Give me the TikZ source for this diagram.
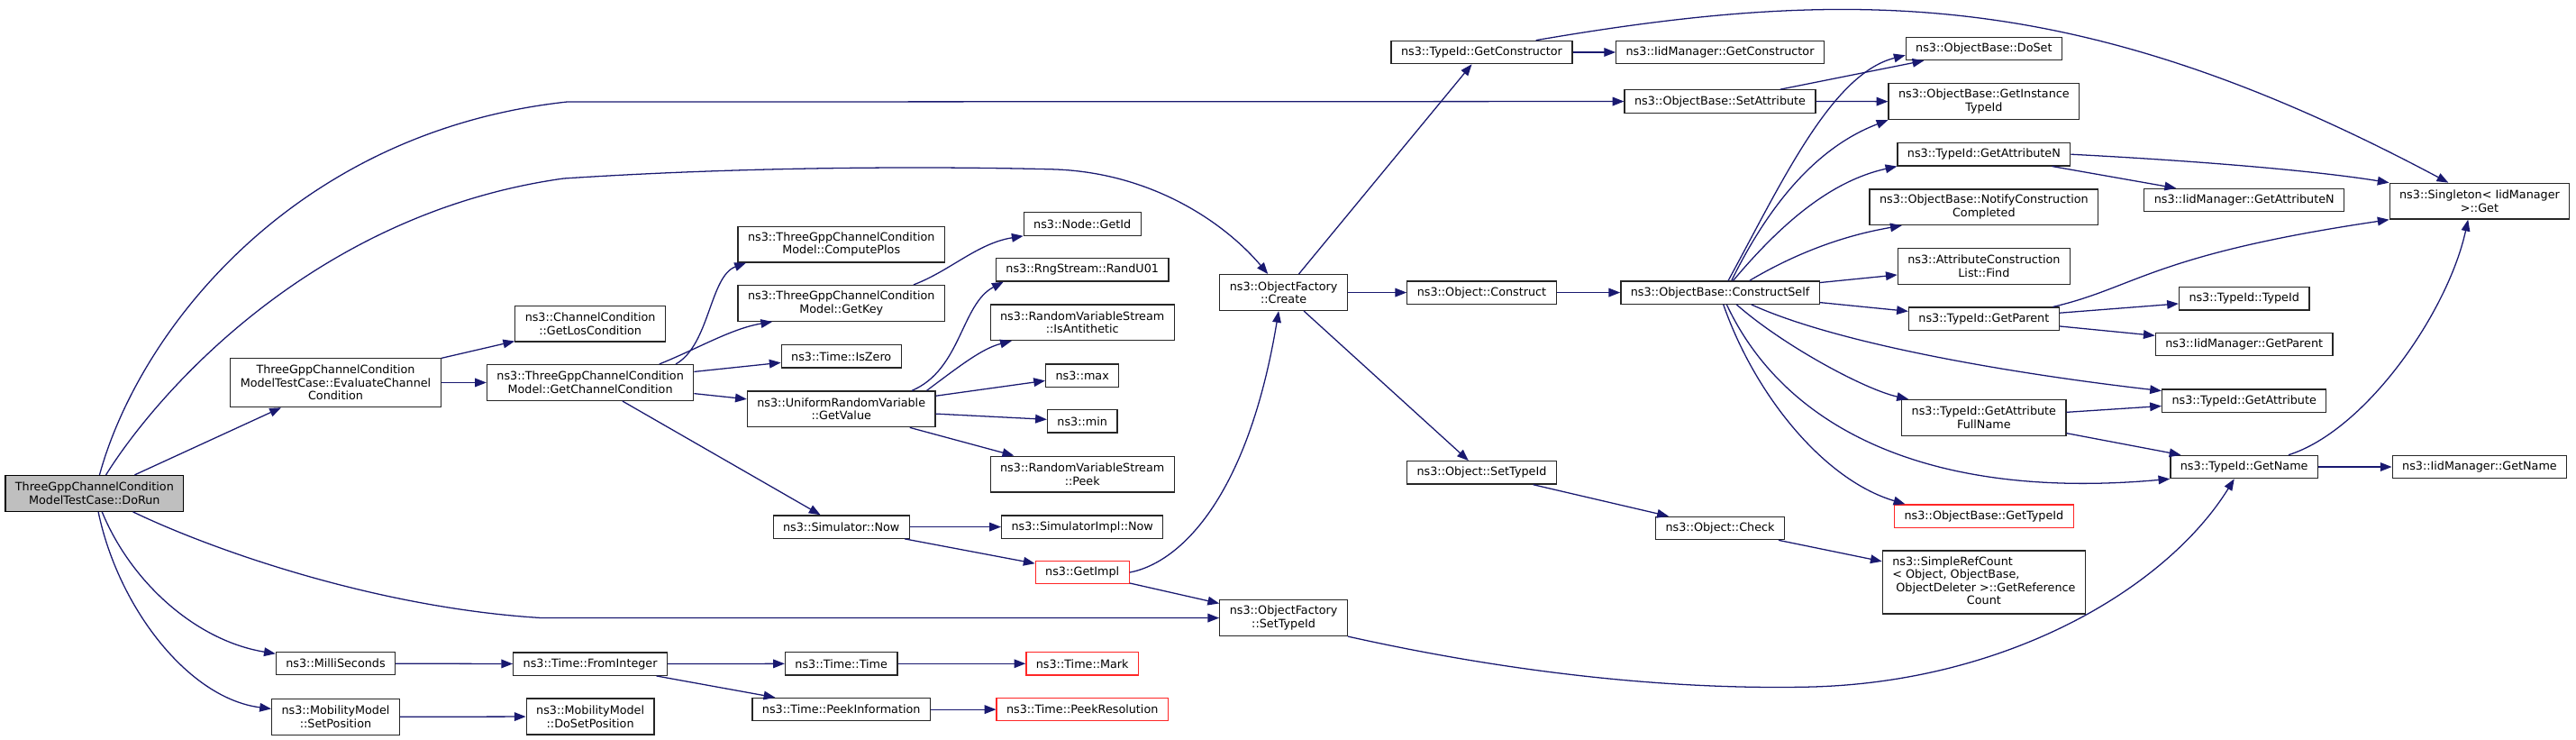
\documentclass[tikz,border=0pt]{standalone}
\usepackage{fontspec}
\setmainfont{DejaVu Sans}
\usetikzlibrary{arrows.meta}
\definecolor{callblue}{RGB}{25,25,112}
\definecolor{rootgray}{RGB}{191,191,191}
\definecolor{truncred}{RGB}{255,38,38}
\begin{document}
\begin{tikzpicture}[x=1pt, y=-1pt,
    fn/.style={draw=black!85, fill=white, line width=0.7pt, font=\fontsize{7}{8}\selectfont,
      align=center, inner xsep=6pt, inner ysep=0pt, minimum height=13.9pt},
    two/.style={minimum height=21.8pt},
    three/.style={minimum height=29.8pt},
    four/.style={minimum height=38.4pt},
    root/.style={draw=black, fill=rootgray},
    trunc/.style={draw=truncred},
    call/.style={draw=callblue, line width=0.7pt, -{Triangle[length=7pt, width=5.3pt]}}]
    \useasboundingbox (0,0) rectangle (1568,450);
    \node[fn, root, two] (dorun) at (57.5,300.2) {ThreeGppChannelCondition\\ModelTestCase::DoRun};
    \node[fn, three] (evalcc) at (204.3,232.8) {ThreeGppChannelCondition\\ModelTestCase::EvaluateChannel\\Condition};
    \node[fn] (milli) at (204.3,403.7) {ns3::MilliSeconds};
    \node[fn, two] (setpos) at (204.3,436.2) {ns3::MobilityModel\\::SetPosition};
    \node[fn, two] (getlos) at (359.3,197) {ns3::ChannelCondition\\::GetLosCondition};
    \node[fn, two] (getcc) at (359.3,232.8) {ns3::ThreeGppChannelCondition\\Model::GetChannelCondition};
    \node[fn] (fromint) at (359.3,404) {ns3::Time::FromInteger};
    \node[fn, two] (dosetpos) at (359.3,436) {ns3::MobilityModel\\::DoSetPosition};
    \node[fn, two] (plos) at (512.1,148.7) {ns3::ThreeGppChannelCondition\\Model::ComputePlos};
    \node[fn, two] (getkey) at (512.1,184.5) {ns3::ThreeGppChannelCondition\\Model::GetKey};
    \node[fn] (iszero) at (512.1,216.8) {ns3::Time::IsZero};
    \node[fn, two] (getval) at (512.1,248.9) {ns3::UniformRandomVariable\\::GetValue};
    \node[fn] (simnow) at (512.1,320.6) {ns3::Simulator::Now};
    \node[fn] (ttime) at (512.1,403.8) {ns3::Time::Time};
    \node[fn] (peekinfo) at (512.1,431.7) {ns3::Time::PeekInformation};
    \node[fn] (nodeid) at (658.8,136.3) {ns3::Node::GetId};
    \node[fn] (randu) at (658.8,164.2) {ns3::RngStream::RandU01};
    \node[fn, two] (anti) at (658.8,196.2) {ns3::RandomVariableStream\\::IsAntithetic};
    \node[fn] (nmax) at (658.8,228.5) {ns3::max};
    \node[fn] (nmin) at (658.8,256.3) {ns3::min};
    \node[fn, two] (peek) at (658.8,288.5) {ns3::RandomVariableStream\\::Peek};
    \node[fn] (implnow) at (658.8,320.6) {ns3::SimulatorImpl::Now};
    \node[fn, trunc] (getimpl) at (658.8,348.3) {ns3::GetImpl};
    \node[fn, trunc] (tmark) at (658.8,403.8) {ns3::Time::Mark};
    \node[fn, trunc] (peekres) at (658.8,431.7) {ns3::Time::PeekResolution};
    \node[fn, two] (create) at (781.3,178) {ns3::ObjectFactory\\::Create};
    \node[fn, two] (ofsettid) at (781.3,376) {ns3::ObjectFactory\\::SetTypeId};
    \node[fn] (getctor) at (901.9,31.8) {ns3::TypeId::GetConstructor};
    \node[fn] (construct) at (901.9,178) {ns3::Object::Construct};
    \node[fn] (osettid) at (901.9,287.6) {ns3::Object::SetTypeId};
    \node[fn] (iidctor) at (1047,31.8) {ns3::IidManager::GetConstructor};
    \node[fn] (setattr) at (1047,61.7) {ns3::ObjectBase::SetAttribute};
    \node[fn] (cself) at (1047,178) {ns3::ObjectBase::ConstructSelf};
    \node[fn] (ocheck) at (1047,321.4) {ns3::Object::Check};
    \node[fn] (doset) at (1207.6,29.6) {ns3::ObjectBase::DoSet};
    \node[fn, two] (instid) at (1207.6,61.8) {ns3::ObjectBase::GetInstance\\TypeId};
    \node[fn] (attrn) at (1207.6,93.9) {ns3::TypeId::GetAttributeN};
    \node[fn, two] (notify) at (1207.6,126) {ns3::ObjectBase::NotifyConstruction\\Completed};
    \node[fn, two] (find) at (1207.6,162) {ns3::AttributeConstruction\\List::Find};
    \node[fn] (parent) at (1207.6,194) {ns3::TypeId::GetParent};
    \node[fn, two] (fullname) at (1207.6,254.1) {ns3::TypeId::GetAttribute\\FullName};
    \node[fn, trunc] (gettid) at (1207.6,314) {ns3::ObjectBase::GetTypeId};
    \node[fn, four] (refcount) at (1207.6,354.3) {\begin{tabular}{@{}l@{}}ns3::SimpleRefCount\\
      {<} Object, ObjectBase,\\\ ObjectDeleter {>}::GetReference\\\multicolumn{1}{@{}c@{}}{Count}\end{tabular}};
    \node[fn] (iidattrn) at (1366,121.8) {ns3::IidManager::GetAttributeN};
    \node[fn] (typeid) at (1366,181.7) {ns3::TypeId::TypeId};
    \node[fn] (iidparent) at (1366,209.5) {ns3::IidManager::GetParent};
    \node[fn] (getattr) at (1366,243.8) {ns3::TypeId::GetAttribute};
    \node[fn] (getname) at (1366,284.1) {ns3::TypeId::GetName};
    \node[fn, two] (singleton) at (1509.3,122.4) {ns3::Singleton{<} IidManager\\{>}::Get};
    \node[fn] (iidname) at (1509.3,284.1) {ns3::IidManager::GetName};
    \foreach \a/\b in {dorun/evalcc, evalcc/getlos, evalcc/getcc, milli/fromint, setpos/dosetpos,
        getcc/iszero, getcc/getval, getcc/simnow, getval/nmax, getval/nmin, getval/peek,
        simnow/implnow, simnow/getimpl, getimpl/ofsettid, fromint/ttime, fromint/peekinfo,
        ttime/tmark, peekinfo/peekres, create/getctor, create/construct, create/osettid,
        getctor/iidctor, construct/cself, setattr/doset, setattr/instid, cself/find, cself/parent,
        attrn/iidattrn, parent/typeid, parent/iidparent, fullname/getattr, fullname/getname,
        getname/iidname, osettid/ocheck, ocheck/refcount}
      \draw[call] (\a) -- (\b);
    \draw[call] (dorun) .. controls (85,200) and (180,80) .. (345,62) -- (setattr);
    \draw[call] (dorun) .. controls (95,240) and (190,130) .. (343,108.6)
      .. controls (450,101.6) and (560,101) .. (640,103) .. controls (700,104.5) and (745,135) .. (create);
    \draw[call] (dorun) .. controls (130,335) and (230,370) .. (330,376) -- (ofsettid);
    \draw[call] (dorun) .. controls (80,355) and (120,390) .. (milli);
    \draw[call] (dorun) .. controls (72,370) and (115,425) .. (setpos);
    \draw[call] ([xshift=52]getcc.north) .. controls (432,210) and (432,168) .. ([xshift=-58]plos.south);
    \draw[call] ([xshift=42]getcc.north) .. controls (425,212) and (445,200) .. ([xshift=-42]getkey.south);
    \draw[call] ([xshift=44]getkey.north) .. controls (578,165) and (595,148) .. (nodeid.south west);
    \draw[call] ([xshift=43]getval.north) .. controls (585,225) and (585,185) .. ([xshift=-48]randu.south);
    \draw[call] ([xshift=52]getval.north) .. controls (585,222) and (598,212) .. ([xshift=-43]anti.south);
    \draw[call] (getimpl.east) .. controls (720,342) and (760,300) .. ([xshift=-3]create.south);
    \draw[call] ([xshift=33]getctor.north) .. controls (1132,-9.3) and (1270,-6.2) .. ([xshift=-19]singleton.north);
    \draw[call] ([xshift=5]cself.north) .. controls (1085,110) and (1115,45) .. ([yshift=-4]doset.west);
    \draw[call] ([xshift=7]cself.north) .. controls (1080,118) and (1110,88) .. (instid.south west);
    \draw[call] ([xshift=8]cself.north) .. controls (1085,135) and (1115,110) .. (attrn.south west);
    \draw[call] ([xshift=18]cself.north) .. controls (1100,150) and (1130,142) .. ([xshift=-50]notify.south);
    \draw[call] ([xshift=19]cself.south) .. controls (1120,210) and (1230,228) .. ([yshift=6]getattr.west);
    \draw[call] ([xshift=10]cself.south) .. controls (1085,210) and (1135,237) .. ([xshift=-46]fullname.north);
    \draw[call] ([xshift=4]cself.south) .. controls (1085,258) and (1170,305) .. (getname.south west);
    \draw[call] ([xshift=2]cself.south) .. controls (1068,240) and (1110,292) .. ([xshift=-48]gettid.north);
    \draw[call] (attrn.east) .. controls (1340,98) and (1410,104) .. (singleton.north west);
    \draw[call] ([xshift=42]parent.north) .. controls (1300,175) and (1310,155) .. (singleton.south west);
    \draw[call] ([xshift=27]getname.north) .. controls (1440,262) and (1490,190) .. ([xshift=-7]singleton.south);
    \draw[call] (ofsettid.south east) .. controls (900,405) and (1000,420) .. (1100,418)
      .. controls (1220,415.6) and (1318,359) .. ([xshift=-6]getname.south);
\end{tikzpicture}
\end{document}
